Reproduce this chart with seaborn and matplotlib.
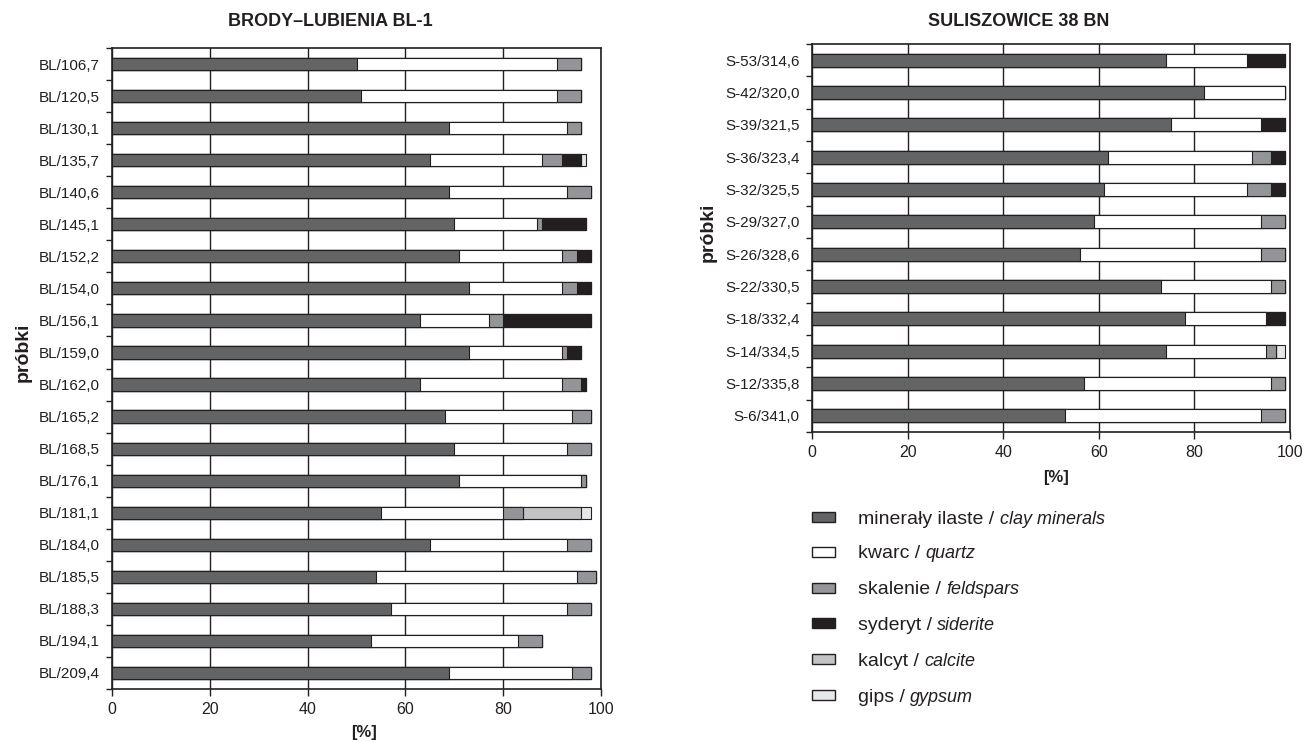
import numpy as np
import pandas as pd
import matplotlib
matplotlib.use("Agg")
import matplotlib.pyplot as plt
import seaborn as sns
from matplotlib.patches import Rectangle
from matplotlib.ticker import FixedLocator

sns.set_theme(style="white")
plt.rcParams["font.family"] = ["Liberation Sans", "DejaVu Sans"]

# ---------------- data ----------------
components_pl = ["minerały ilaste", "kwarc", "skalenie", "syderyt", "kalcyt", "gips"]
components_en = ["clay minerals", "quartz", "feldspars", "siderite", "calcite", "gypsum"]

bl_samples = ["BL/106,7", "BL/120,5", "BL/130,1", "BL/135,7", "BL/140,6", "BL/145,1",
              "BL/152,2", "BL/154,0", "BL/156,1", "BL/159,0", "BL/162,0", "BL/165,2",
              "BL/168,5", "BL/176,1", "BL/181,1", "BL/184,0", "BL/185,5", "BL/188,3",
              "BL/194,1", "BL/209,4"]
bl_clay     = [50, 51, 69, 65, 69, 70, 71, 73, 63, 73, 63, 68, 70, 71, 55, 65, 54, 57, 53, 69]
bl_quartz   = [41, 40, 24, 23, 24, 17, 21, 19, 14, 19, 29, 26, 23, 25, 25, 28, 41, 36, 30, 25]
bl_feldspar = [5, 5, 3, 4, 5, 1, 3, 3, 3, 1, 4, 4, 5, 1, 4, 5, 4, 5, 5, 4]
bl_siderite = [0, 0, 0, 4, 0, 9, 3, 3, 18, 3, 1, 0, 0, 0, 0, 0, 0, 0, 0, 0]
bl_calcite  = [0, 0, 0, 0, 0, 0, 0, 0, 0, 0, 0, 0, 0, 0, 12, 0, 0, 0, 0, 0]
bl_gypsum   = [0, 0, 0, 1, 0, 0, 0, 0, 0, 0, 0, 0, 0, 0, 2, 0, 0, 0, 0, 0]

s_samples = ["S-53/314,6", "S-42/320,0", "S-39/321,5", "S-36/323,4", "S-32/325,5",
             "S-29/327,0", "S-26/328,6", "S-22/330,5", "S-18/332,4", "S-14/334,5",
             "S-12/335,8", "S-6/341,0"]
s_clay     = [74, 82, 75, 62, 61, 59, 56, 73, 78, 74, 57, 53]
s_quartz   = [17, 17, 19, 30, 30, 35, 38, 23, 17, 21, 39, 41]
s_feldspar = [0, 0, 0, 4, 5, 5, 5, 3, 0, 2, 3, 5]
s_siderite = [8, 0, 5, 3, 3, 0, 0, 0, 4, 0, 0, 0]
s_calcite  = [0, 0, 0, 0, 0, 0, 0, 0, 0, 0, 0, 0]
s_gypsum   = [0, 0, 0, 0, 0, 0, 0, 0, 0, 2, 0, 0]

x_ticks = [0, 20, 40, 60, 80, 100]

# ---------------- style ----------------
colors = ["#636466", "#ffffff", "#939598", "#231f20", "#c2c3c5", "#e6e7e8"]
edge = "#231f20"
W, H = 1306, 742

fig = plt.figure(figsize=(W / 100, H / 100), dpi=100)


def fx(px):
    return px / W


def fy(py):
    return 1 - py / H


def draw(ax, samples, comps, width):
    df = pd.DataFrame({"sample": samples})
    cum = np.zeros(len(samples))
    cums = []
    for vals in comps:
        cum = cum + np.asarray(vals, dtype=float)
        cums.append(cum.copy())
    for i in reversed(range(len(comps))):
        df["v"] = cums[i]
        sns.barplot(data=df, x="v", y="sample", order=samples, orient="h",
                    color=colors[i], saturation=1, width=width, errorbar=None,
                    edgecolor=edge, linewidth=0.8, ax=ax)
    n = len(samples)
    ax.set_xlim(0, 100)
    ax.set_ylim(n - 0.5, -0.5)
    ax.set_xticks(x_ticks)
    ax.set_xticklabels([str(t) for t in x_ticks], fontsize=11.5, color="#231f20")
    ax.xaxis.grid(True, color=edge, linewidth=1.0)
    ax.yaxis.grid(False)
    ax.set_axisbelow(True)
    ax.tick_params(axis="y", which="major", length=0, pad=9, labelsize=11,
                   labelcolor="#231f20")
    ax.yaxis.set_minor_locator(FixedLocator(np.arange(-0.5, n, 1.0)))
    ax.tick_params(axis="y", which="minor", length=4, width=1, color=edge,
                   direction="out", left=True)
    ax.tick_params(axis="x", which="major", length=5, width=1, color=edge,
                   direction="out", bottom=True, pad=4)
    ax.set_xlabel("")
    ax.set_ylabel("")
    for sp in ax.spines.values():
        sp.set_visible(True)
        sp.set_color(edge)
        sp.set_linewidth(1.2)


# left panel
ax1 = fig.add_axes([fx(112), fy(689), fx(601) - fx(112), fy(48) - fy(689)])
draw(ax1, bl_samples,
     [bl_clay, bl_quartz, bl_feldspar, bl_siderite, bl_calcite, bl_gypsum], 0.38)

# right panel
ax2 = fig.add_axes([fx(812), fy(432), fx(1290) - fx(812), fy(44) - fy(432)])
draw(ax2, s_samples,
     [s_clay, s_quartz, s_feldspar, s_siderite, s_calcite, s_gypsum], 0.4)

# titles and axis labels
fig.text(fx(330), fy(22), "BRODY–LUBIENIA BL-1", ha="center", va="center",
         fontsize=13, fontweight="bold", color="#231f20")
fig.text(fx(1019), fy(22), "SULISZOWICE 38 BN", ha="center", va="center",
         fontsize=13, fontweight="bold", color="#231f20")
fig.text(fx(23), fy(352), "próbki", rotation=90, ha="center", va="center",
         fontsize=14, fontweight="bold", color="#231f20")
fig.text(fx(708), fy(232), "próbki", rotation=90, ha="center", va="center",
         fontsize=14, fontweight="bold", color="#231f20")
fig.text(fx(364), fy(733), "[%]", ha="center", va="center",
         fontsize=12, fontweight="bold", color="#231f20")
fig.text(fx(1056), fy(477), "[%]", ha="center", va="center",
         fontsize=12, fontweight="bold", color="#231f20")

# legend (drawn manually to mix regular and italic text)
renderer = fig.canvas.get_renderer()
row_y = [517, 552, 588, 623, 659, 695]
for i in range(len(components_pl)):
    cy = row_y[i]
    fig.patches.append(Rectangle((fx(812), fy(cy + 5)), fx(835) - fx(812),
                                 fy(cy - 5) - fy(cy + 5), transform=fig.transFigure,
                                 facecolor=colors[i], edgecolor=edge, linewidth=1.0))
    t = fig.text(fx(858), fy(cy), components_pl[i] + " / ", ha="left",
                 va="center_baseline", fontsize=14, color="#231f20")
    bb = t.get_window_extent(renderer=renderer)
    fig.text(bb.x1 / (fig.dpi * fig.get_figwidth()), fy(cy), components_en[i],
             ha="left", va="center_baseline", fontsize=13, style="italic",
             color="#231f20")

fig.savefig("out.png", dpi=100)
